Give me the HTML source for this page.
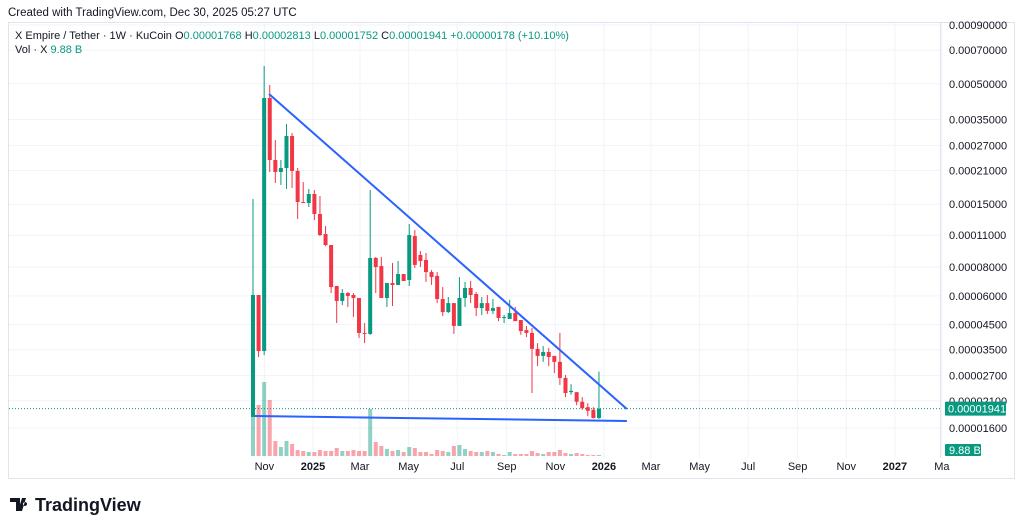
<!DOCTYPE html>
<html><head><meta charset="utf-8">
<style>
html,body{margin:0;padding:0;background:#fff;}
svg{display:block;font-family:"Liberation Sans",sans-serif;}
</style></head>
<body>
<svg id="chart" width="1024" height="529" viewBox="0 0 1024 529">
  <rect x="0" y="0" width="1024" height="529" fill="#fff"/>
  <text x="8" y="16" font-size="11.5" fill="#131722">Created with TradingView.com, Dec 30, 2025 05:27 UTC</text>
  <rect x="8.5" y="22.5" width="1006" height="456" fill="none" stroke="#e0e3eb"/>
  <line x1="940.5" y1="22" x2="940.5" y2="458" stroke="#e0e3eb"/>
  <g id="grid"></g>
  <g id="vol"></g>
  <g id="candles"></g>
  <g id="lines"></g>
  <g id="yaxis"></g>
  <g id="xaxis"></g>
  <g>
    <text x="15" y="39" font-size="11" fill="#131722">X Empire / Tether · 1W · KuCoin  <tspan fill="#131722">O</tspan><tspan fill="#089981">0.00001768</tspan><tspan fill="#131722">  H</tspan><tspan fill="#089981">0.00002813</tspan><tspan fill="#131722">  L</tspan><tspan fill="#089981">0.00001752</tspan><tspan fill="#131722">  C</tspan><tspan fill="#089981">0.00001941</tspan><tspan fill="#089981"> +0.00000178 (+10.10%)</tspan></text>
    <text x="15" y="53" font-size="11" fill="#131722">Vol · X  <tspan fill="#089981">9.88 B</tspan></text>
  </g>
  <g>
    <path d="M10 498h10v13h-4v-9h-6z M22 498h4l-4 13h-4z M25 502a2 2 0 1 0 0.01 0z" fill="#131722"/>
    <text x="35" y="511" font-size="18" font-weight="bold" fill="#131722">TradingView</text>
  </g>
</svg>
<script>
// ---- data (prices in units of 1e-8 USDT) ----
const opens  = [1786,6050,3456,43380,23340,20700,21540,29660,20910,15330,15180,16610,13600,11130,9970,6620,5700,6170,6050,5870,4140,4100,8760,8080,5870,6820,6690,7460,7030,10910,9030,8590,7610,7320,5810,5100,5580,4440,5870,6490,6110,5310,5580,5160,5370,4810,4760,5050,4710,4260,4140,3530,3290,3420,3290,3100,2640,2290,2290,2080,1970,1920,1768];
const closes = [6050,3456,43380,23340,20700,21540,29660,20910,15330,15180,16610,13600,11020,9970,6550,5700,6170,5990,5870,4140,4100,8760,8000,5870,6820,6690,7460,6960,11020,8170,8500,7610,7240,5810,5100,5580,4440,5870,6490,6050,5310,5580,5160,5310,4810,4860,5050,4660,4220,4140,3530,3290,3420,3254,3100,2640,2270,2320,2080,1950,1900,1768,1941];
const highs  = [15800,6050,59740,49410,28500,23340,33450,30570,21540,18720,17460,17280,16280,12060,9970,6620,6420,6230,6170,5870,4570,17280,8850,8850,6820,8330,8500,7460,12300,11590,9390,9210,7770,7610,6550,5930,5580,7240,6890,6960,6230,5930,6050,5810,5370,4950,5760,5370,4710,4440,4350,3740,3630,3560,3290,4140,2720,2480,2290,2180,2050,1970,2813];
const lows   = [1786,3254,3320,20700,18540,18180,17460,17640,12930,15180,14590,12800,10910,9870,6170,4570,5470,5370,4860,3940,3740,4060,6170,5870,5370,5420,6690,6960,6620,7920,8000,6890,6690,5580,4900,5050,4100,4440,5370,5580,4900,4950,5000,5000,4660,4570,4760,4660,4060,3970,2270,2970,3100,2970,2770,2460,2180,2230,2010,1920,1800,1760,1752];
const volumes= [600,510,740,560,150,90,150,120,60,50,40,40,60,50,50,80,50,50,60,50,50,470,140,100,70,50,60,40,90,80,40,40,20,60,50,40,100,110,70,50,40,40,50,40,20,10,40,20,20,20,50,30,20,40,40,60,30,20,30,20,10,10,10];
const up     = closes.map((c,i)=>c>=opens[i]);
const priceTicks = [90000,70000,50000,35000,27000,21000,15000,11000,8000,6000,4500,3500,2700,2100,1600];
const timeTicks = [["2024-11-01","Nov"],["2025-01-01","2025"],["2025-03-01","Mar"],["2025-05-01","May"],["2025-07-01","Jul"],["2025-09-01","Sep"],["2025-11-01","Nov"],["2026-01-01","2026"],["2026-03-01","Mar"],["2026-05-01","May"],["2026-07-01","Jul"],["2026-09-01","Sep"],["2026-11-01","Nov"],["2027-01-01","2027"],["2027-03-01","Ma"]];
const trendTop = [[2.87,45150],[67,1935]];
const trendBottom = [[0.36,1804],[67,1716]];
const lastPrice = 1941;
const lastVolLabel = "9.88 B";
const firstBar = "2024-10-14";

// ---- axes ----
const NS="http://www.w3.org/2000/svg";
const X0=253, PITCH=5.58, Y0=428, K=100, P0=1600, VBASE=456, VK=0.1;
const xi = i => X0 + i*PITCH;
const xd = d => X0 - 3 + ((new Date(d) - new Date(firstBar))/86400000/7)*PITCH;
const yp = p => Y0 - K*Math.log(p/P0);
const yv = v => VBASE - v*VK;
function mk(tag, attrs, parent){const e=document.createElementNS(NS,tag);for(const k in attrs)e.setAttribute(k,attrs[k]);parent.appendChild(e);return e;}
const fmt = p => (p/1e8).toFixed(8);

const grid=document.getElementById('grid'), yax=document.getElementById('yaxis'), xax=document.getElementById('xaxis');
priceTicks.forEach(p=>{
  const g=mk('line',{x1:9,x2:940,y1:yp(p),y2:yp(p),stroke:'#f0f3fa'},grid);
  
  
  const t=mk('text',{x:949,y:yp(p)+4,'font-size':11,fill:'#131722'},yax);
  t.textContent=fmt(p);
  
  
});
timeTicks.forEach(([d,l])=>{
  const x=xd(d);
  const g=mk('line',{x1:x,x2:x,y1:23,y2:458,stroke:'#f0f3fa'},grid);
  
  
  const t=mk('text',{x:x,y:470,'font-size':11,fill:'#131722','text-anchor':'middle','font-weight':/^\d+$/.test(l)?'bold':'normal'},xax);
  t.textContent=l;
  
  
});

// volume
const vg=document.getElementById('vol');
volumes.forEach((v,i)=>{
  const r=mk('rect',{x:xi(i)-2,y:yv(v),width:4,height:v*VK,fill:up[i]?'rgba(8,153,129,0.45)':'rgba(242,54,69,0.45)'},vg);
  
  
});

// last price dotted line
const dl=mk('line',{x1:9,x2:940,y1:yp(lastPrice),y2:yp(lastPrice),stroke:'#089981','stroke-dasharray':'1 2'},grid);



// candles
const cg=document.getElementById('candles');
opens.forEach((o,i)=>{
  const c=closes[i], col=up[i]?'#089981':'#f23645', x=xi(i);
  const w=mk('line',{x1:x,x2:x,y1:yp(highs[i]),y2:yp(lows[i]),stroke:col,'stroke-width':1},cg);
  
  
  const top=Math.min(yp(o),yp(c)), h=Math.max(1,Math.abs(yp(o)-yp(c)));
  const b=mk('rect',{x:x-2,y:top,width:4,height:h,fill:col},cg);
  
  
});

// trendlines
const lg=document.getElementById('lines');
[trendTop,trendBottom].forEach((t,k)=>{
  const l=mk('line',{x1:xi(t[0][0]),y1:yp(t[0][1]),x2:xi(t[1][0]),y2:yp(t[1][1]),stroke:'#2962ff','stroke-width':2},lg);
  
  
});

// last price label
const ly=yp(lastPrice);
const pr=mk('rect',{x:945,y:ly-7,width:61,height:14,fill:'#089981',rx:1},yax);


const pt=mk('text',{x:948,y:ly+4,'font-size':11,fill:'#fff'},yax);
pt.textContent=fmt(lastPrice);


const vr=mk('rect',{x:945,y:444,width:36,height:12,fill:'#089981',rx:1},yax);


const vt=mk('text',{x:949,y:454,'font-size':11,fill:'#fff'},yax);
vt.textContent=lastVolLabel;


</script>
</body></html>
